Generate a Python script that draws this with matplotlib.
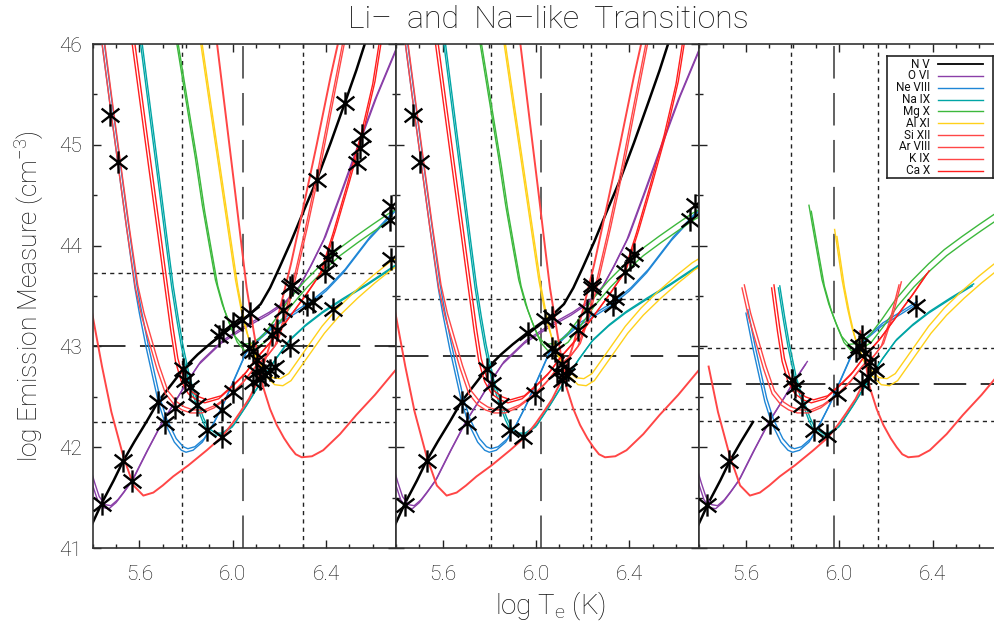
import matplotlib
matplotlib.use('Agg')
import matplotlib.pyplot as plt
from matplotlib.path import Path
from matplotlib.ticker import MultipleLocator, FormatStrFormatter
import numpy as np

plt.rcParams['font.family'] = ['Roboto', 'DejaVu Sans']
plt.rcParams['font.weight'] = 'light'
plt.rcParams['axes.labelweight'] = 'light'
plt.rcParams['mathtext.default'] = 'regular'

# ---- emission-measure loci: log T (K) vs log EM (cm^-3) ----
T_NV = [5.38, 5.40, 5.44, 5.49, 5.53, 5.58, 5.63, 5.68, 5.74, 5.79, 5.85, 5.90, 5.96,
        6.02, 6.07, 6.12, 6.16, 6.20, 6.25, 6.30, 6.36, 6.42, 6.48, 6.53, 6.58]
EM_NV = [41.15, 41.25, 41.45, 41.67, 41.86, 42.06, 42.25, 42.45, 42.63, 42.78, 42.92, 43.02, 43.13,
         43.23, 43.31, 43.42, 43.58, 43.78, 44.04, 44.32, 44.65, 45.02, 45.41, 45.74, 46.10]

T_OVI = [5.38, 5.40, 5.42, 5.445, 5.47, 5.50, 5.53, 5.567, 5.63, 5.696, 5.753, 5.80, 5.855,
         5.95, 6.05, 6.15, 6.22, 6.28, 6.33, 6.39, 6.46, 6.53, 6.61, 6.70, 6.73]
EM_OVI = [41.78, 41.62, 41.48, 41.40, 41.39, 41.45, 41.54, 41.66, 41.95, 42.24, 42.45, 42.63, 42.82,
          43.03, 43.18, 43.31, 43.42, 43.57, 43.78, 44.06, 44.50, 44.95, 45.45, 45.95, 46.12]

T_NEVIII = [5.43, 5.438, 5.474, 5.51, 5.545, 5.581, 5.60, 5.63, 5.681, 5.71, 5.75, 5.78, 5.80,
            5.83, 5.87, 5.91, 5.954, 6.00, 6.055, 6.12, 6.18, 6.25, 6.326, 6.40, 6.474, 6.58, 6.70]
EM_NEVIII = [46.20, 46.04, 45.40, 44.78, 44.18, 43.58, 43.33, 42.98, 42.45, 42.24, 42.05, 41.97, 41.95,
             41.97, 42.05, 42.20, 42.40, 42.64, 42.93, 43.08, 43.20, 43.30, 43.41, 43.55, 43.73, 44.05, 44.35]

T_NAIX = [5.595, 5.603, 5.64, 5.68, 5.71, 5.739, 5.76, 5.78, 5.81, 5.84, 5.869, 5.89, 5.92,
          5.948, 5.998, 6.055, 6.127, 6.18, 6.24, 6.31, 6.383, 6.47, 6.57, 6.70]
EM_NAIX = [46.18, 46.04, 45.37, 44.65, 44.10, 43.58, 43.27, 43.00, 42.67, 42.45, 42.27, 42.17, 42.12,
           42.12, 42.20, 42.40, 42.67, 42.86, 43.05, 43.20, 43.33, 43.46, 43.60, 43.80]

T_MGX = [5.75, 5.758, 5.80, 5.84, 5.87, 5.90, 5.926, 5.955, 5.984, 6.01, 6.04, 6.08, 6.127,
         6.18, 6.24, 6.31, 6.383, 6.45, 6.526, 6.60, 6.67, 6.72]
EM_MGX = [46.15, 46.04, 45.44, 44.87, 44.40, 44.00, 43.66, 43.42, 43.24, 43.10, 43.02, 43.03, 43.10,
          43.26, 43.46, 43.65, 43.82, 43.96, 44.09, 44.21, 44.32, 44.38]

T_ALXI = [5.855, 5.861, 5.90, 5.94, 5.98, 6.012, 6.035, 6.055, 6.075, 6.098, 6.13, 6.17, 6.205,
          6.24, 6.31, 6.383, 6.45, 6.526, 6.60, 6.67, 6.72]
EM_ALXI = [46.14, 46.04, 45.42, 44.79, 44.16, 43.66, 43.38, 43.18, 43.03, 42.91, 42.78, 42.69, 42.68,
           42.73, 42.96, 43.20, 43.38, 43.55, 43.70, 43.83, 43.90]

T_SIXII = [5.925, 5.931, 5.97, 6.01, 6.04, 6.06, 6.09, 6.13, 6.16, 6.189, 6.22, 6.246, 6.27,
           6.296, 6.34, 6.388, 6.46, 6.53, 6.61, 6.70]
EM_SIXII = [46.15, 46.04, 45.30, 44.54, 43.96, 43.58, 43.15, 42.60, 42.38, 42.22, 42.09, 42.00, 41.93,
            41.90, 41.91, 41.97, 42.13, 42.32, 42.52, 42.77]

T_ARVIII = [5.38, 5.40, 5.44, 5.48, 5.531, 5.575, 5.617, 5.66, 5.70, 5.745, 5.81, 5.889, 5.953,
            6.00, 6.03, 6.07, 6.10, 6.13, 6.16, 6.20, 6.25, 6.30, 6.36, 6.42, 6.47]
EM_ARVIII = [43.55, 43.30, 42.80, 42.35, 41.91, 41.62, 41.52, 41.55, 41.62, 41.71, 41.82, 41.97, 42.10,
             42.24, 42.34, 42.48, 42.62, 42.80, 43.02, 43.35, 43.82, 44.35, 45.00, 45.68, 46.20]

T_KIX = [5.43, 5.438, 5.474, 5.51, 5.545, 5.583, 5.61, 5.64, 5.675, 5.712, 5.75, 5.783, 5.82,
         5.869, 5.92, 5.984, 6.04, 6.098, 6.14, 6.18, 6.22, 6.256, 6.31, 6.37, 6.42, 6.474, 6.49]
EM_KIX = [46.20, 46.04, 45.40, 44.78, 44.18, 43.58, 43.30, 43.06, 42.78, 42.53, 42.42, 42.37, 42.34,
          42.34, 42.39, 42.50, 42.63, 42.80, 42.88, 43.00, 43.28, 43.61, 44.15, 44.80, 45.40, 46.04, 46.22]

T_CAX = [5.56, 5.567, 5.60, 5.64, 5.68, 5.71, 5.735, 5.755, 5.78, 5.81, 5.845, 5.88, 5.94,
         5.998, 6.05, 6.098, 6.17, 6.24, 6.31, 6.375, 6.43, 6.49, 6.55, 6.60, 6.63, 6.645]
EM_CAX = [46.16, 46.04, 45.47, 44.78, 44.10, 43.58, 43.15, 42.85, 42.65, 42.53, 42.47, 42.44, 42.48,
          42.60, 42.72, 42.87, 43.06, 43.28, 43.50, 43.72, 44.12, 44.60, 45.10, 45.60, 46.04, 46.25]

ION_NAMES = ['N V', 'O VI', 'Ne VIII', 'Na IX', 'Mg X', 'Al XI', 'Si XII', 'Ar VIII', 'K IX', 'Ca X']
ION_COLORS = ['#000000', '#8a3fa8', '#1f86d6', '#00a5a5', '#3cb83c', '#ffd11a',
              '#ff4646', '#ff4646', '#ff4646', '#ff1e1e']
# offset (dlogT, dlogEM) of the second line of each doublet; None = single line
DOUBLET_SHIFT = [None, (0.008, 0.03), (0.008, 0.035), (0.006, 0.02), (0.01, -0.06),
                 (0.01, -0.07), None, None, (0.01, 0.03), (0.01, 0.03)]
# log T range kept in the third panel
T_RANGE_P3 = [(5.38, 5.63), (5.38, 5.855), (5.60, 6.326), (5.739, 6.57), (5.87, 6.72),
              (5.98, 6.72), (6.09, 6.70), (5.44, 6.10), (5.583, 6.256), (5.71, 6.375)]

# per-panel temperature / EM markers (lo, mid, hi)
T_REF = [(5.781, 6.043, 6.300), (5.806, 6.022, 6.237), (5.793, 5.979, 6.166)]
EM_REF = [(42.25, 43.00, 43.73), (42.38, 42.90, 43.47), (42.26, 42.63, 42.98)]

# measured points per panel
STAR_T_1 = [5.474, 5.51, 6.481, 6.36, 6.553, 6.546, 6.532, 6.674, 6.68, 6.68, 6.425, 6.41, 6.396,
            6.253, 6.246, 6.217, 6.189, 6.317, 6.346, 6.43, 6.246, 6.167, 6.039, 6.074, 6.003,
            5.96, 5.94, 6.088, 6.103, 6.13, 6.16, 6.117, 6.088, 6.18, 6.07, 6.10, 6.14, 6.003,
            5.953, 5.953, 5.889, 5.846, 5.817, 5.796, 5.788, 5.753, 5.681, 5.71, 5.531, 5.567, 5.439]
STAR_EM_1 = [45.30, 44.83, 45.41, 44.65, 45.10, 44.97, 44.82, 44.25, 44.39, 43.87, 43.94, 43.87, 43.74,
             43.61, 43.59, 43.36, 43.16, 43.41, 43.44, 43.37, 43.00, 43.11, 43.26, 43.33, 43.23,
             43.15, 43.10, 42.95, 42.87, 42.78, 42.77, 42.68, 42.65, 42.80, 42.98, 42.75, 42.72, 42.55,
             42.37, 42.10, 42.17, 42.42, 42.60, 42.67, 42.78, 42.39, 42.45, 42.24, 41.86, 41.66, 41.44]

STAR_T_2 = [5.474, 5.503, 6.239, 6.418, 6.405, 6.382, 6.339, 6.66, 6.68, 6.239, 6.218, 6.182, 6.332,
            6.067, 6.038, 5.967, 6.081, 6.11, 6.138, 6.11, 6.07, 6.09, 6.13, 5.995, 5.889, 5.946,
            5.846, 5.81, 5.789, 5.682, 5.703, 5.532, 5.439]
STAR_EM_2 = [45.30, 44.83, 43.61, 43.92, 43.86, 43.74, 43.48, 44.25, 44.40, 43.58, 43.36, 43.16, 43.41,
             43.29, 43.26, 43.13, 42.95, 42.83, 42.77, 42.67, 42.98, 42.75, 42.72, 42.53, 42.17, 42.10,
             42.42, 42.63, 42.78, 42.45, 42.24, 41.86, 41.43]

STAR_T_3 = [6.327, 6.083, 6.111, 6.097, 6.154, 6.125, 6.097, 6.07, 6.13, 5.99, 5.89, 5.947,
            5.84, 5.812, 5.797, 5.704, 5.526, 5.433]
STAR_EM_3 = [43.40, 43.00, 42.93, 43.10, 42.77, 42.70, 42.63, 42.95, 42.85, 42.53, 42.17, 42.12,
             42.42, 42.60, 42.67, 42.24, 41.86, 41.43]

CURVES_T = [T_NV, T_OVI, T_NEVIII, T_NAIX, T_MGX, T_ALXI, T_SIXII, T_ARVIII, T_KIX, T_CAX]
CURVES_EM = [EM_NV, EM_OVI, EM_NEVIII, EM_NAIX, EM_MGX, EM_ALXI, EM_SIXII, EM_ARVIII, EM_KIX, EM_CAX]
STARS = [(STAR_T_1, STAR_EM_1), (STAR_T_2, STAR_EM_2), (STAR_T_3, STAR_EM_3)]

# IDL-style asterisk: vertical bar plus a cross
star_path = Path([(0, -1), (0, 1), (-0.8, -0.62), (0.8, 0.62), (-0.8, 0.62), (0.8, -0.62)],
                 [Path.MOVETO, Path.LINETO] * 3)

W, H = 995, 624
fig = plt.figure(figsize=(W / 100, H / 100), dpi=100)

panel_w = 303.3
top_px, bot_px = 44, 548
axes = []
for i, left_px in enumerate([92.7, 396.0, 699.3]):
    ax = fig.add_axes([left_px / W, (H - bot_px) / H, panel_w / W, (bot_px - top_px) / H])
    axes.append(ax)

for p, ax in enumerate(axes):
    ax.set_xlim(5.4, 6.7)
    ax.set_ylim(41, 46)

    t_lo, t_mid, t_hi = T_REF[p]
    e_lo, e_mid, e_hi = EM_REF[p]
    for t in (t_lo, t_hi):
        ax.axvline(t, color='#222222', lw=1.0, dashes=(3, 3), zorder=1)
    ax.axvline(t_mid, color='#555555', lw=1.3, dashes=(18, 8), zorder=1)
    for e in (e_lo, e_hi):
        ax.axhline(e, color='#222222', lw=1.0, dashes=(3, 3), zorder=1)
    ax.axhline(e_mid, color='#222222', lw=1.3, dashes=(18, 8), zorder=1)

    for k in range(len(ION_NAMES)):
        t = np.array(CURVES_T[k])
        em = np.array(CURVES_EM[k])
        if p == 2:
            lo, hi = T_RANGE_P3[k]
            keep = (t >= lo - 1e-6) & (t <= hi + 1e-6)
            t, em = t[keep], em[keep]
        shift = DOUBLET_SHIFT[k]
        if k == 0:
            lw = 1.8
        elif shift is None:
            lw = 1.4
        else:
            lw = 1.0
        ax.plot(t, em, color=ION_COLORS[k], lw=lw, zorder=2)
        if shift is not None:
            ax.plot(t + shift[0], em + shift[1], color=ION_COLORS[k], lw=lw, zorder=2)

    st, se = STARS[p]
    ax.plot(st, se, linestyle='none', marker=star_path, ms=16, mec='black', mew=1.7,
            mfc='none', zorder=4)

    ax.xaxis.set_major_locator(MultipleLocator(0.4))
    ax.xaxis.set_minor_locator(MultipleLocator(0.1))
    ax.yaxis.set_major_locator(MultipleLocator(1))
    ax.yaxis.set_minor_locator(MultipleLocator(0.5))
    ax.xaxis.set_major_formatter(FormatStrFormatter('%.1f'))
    ax.tick_params(which='both', direction='in', top=True, right=True, width=1, color='#222222')
    ax.tick_params(which='major', length=6)
    ax.tick_params(which='minor', length=3)
    ax.tick_params(axis='x', which='major', pad=12, labelsize=15, labelcolor='#111111')
    ax.tick_params(axis='y', which='major', pad=8, labelsize=15, labelcolor='#111111')
    if p > 0:
        ax.tick_params(axis='y', labelleft=False)
    for s in ax.spines.values():
        s.set_color('#333333')
        s.set_linewidth(1.2)

axes[0].set_ylabel('log Emission Measure (cm$^{-3}$)', fontsize=19, fontweight='light',
                   color='#111111', labelpad=9)
fig.text(550 / W, 1 - 606 / H, 'log T$_{e}$ (K)', ha='center', va='center', fontsize=20,
         fontweight='light', color='#111111')
fig.text(548 / W, 1 - 20 / H, 'Li\u2013  and  Na\u2013like  Transitions', ha='center', va='center',
         fontsize=23, fontweight='light', color='#111111')

# legend box
lx0, lx1, ly0, ly1 = 887.3, 992.7, 56, 178
lax = fig.add_axes([lx0 / W, (H - ly1) / H, (lx1 - lx0) / W, (ly1 - ly0) / H])
lax.set_xlim(lx0, lx1)
lax.set_ylim(ly1, ly0)
lax.set_xticks([])
lax.set_yticks([])
lax.set_facecolor('white')
for s in lax.spines.values():
    s.set_color('#222222')
    s.set_linewidth(1.2)
for i, (name, col) in enumerate(zip(ION_NAMES, ION_COLORS)):
    y = 64 + i * 11.85
    lax.text(930, y, name, ha='right', va='center', fontsize=8.5, fontweight='normal',
             color='#111111')
    lax.plot([938, 982.7], [y, y], color=col, lw=1.3 if i == 0 else 1.0)

fig.savefig('out.png', dpi=100)
